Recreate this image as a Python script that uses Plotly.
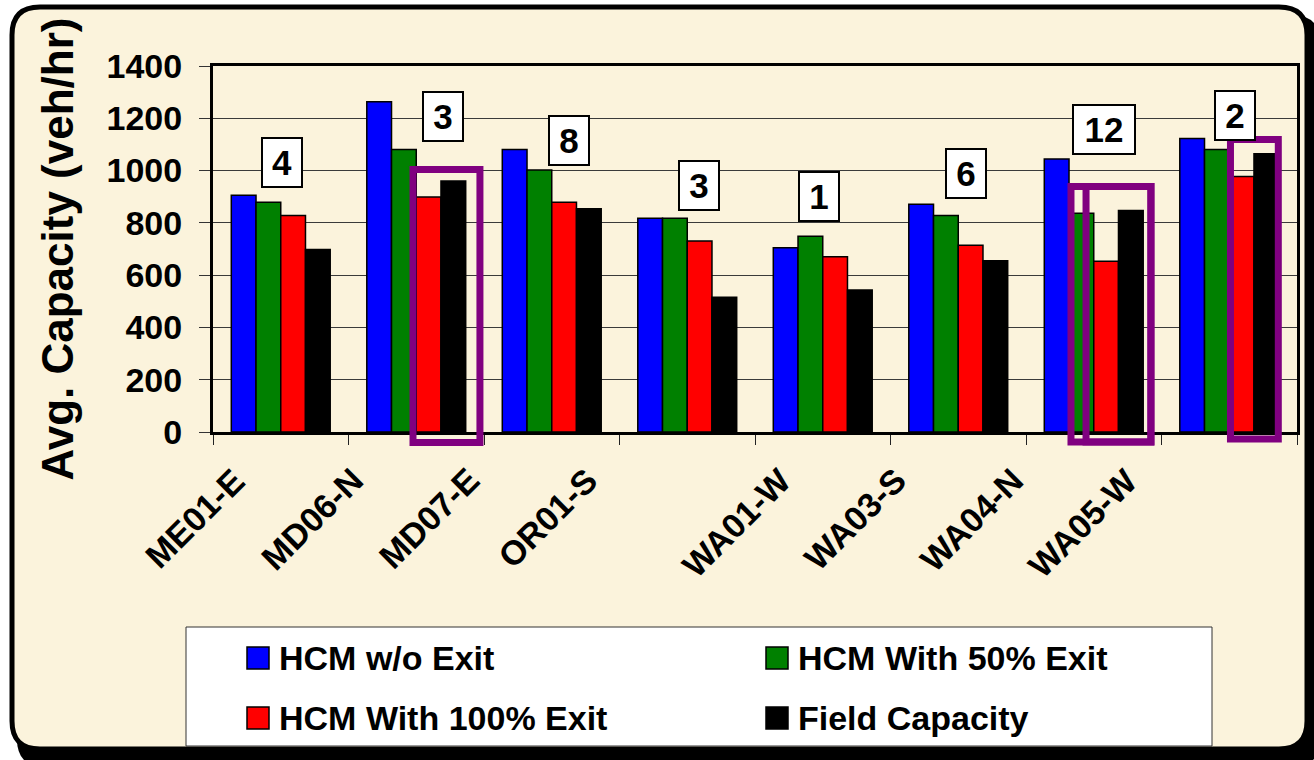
import plotly.graph_objects as go

# ---- data -------------------------------------------------------------
sites = ["ME01-E", "MD06-N", "MD07-E", "OR01-S", "WA01-W", "WA03-S", "WA04-N", "WA05-W"]
hcm_no_exit = [906, 1263, 1081, 818, 705, 871, 1044, 1123]
hcm_50_exit = [879, 1081, 1002, 818, 749, 828, 837, 1081]
hcm_100_exit = [828, 899, 879, 731, 670, 714, 653, 977]
field_capacity = [698, 960, 854, 515, 543, 655, 847, 1064]
site_counts = [4, 3, 8, 3, 1, 6, 12, 2]

series_names = ["HCM w/o Exit", "HCM With 50% Exit", "HCM With 100% Exit", "Field Capacity"]
series_values = [hcm_no_exit, hcm_50_exit, hcm_100_exit, field_capacity]
series_colors = ["#0000FF", "#008000", "#FF0000", "#000000"]

y_ticks = [0, 200, 400, 600, 800, 1000, 1200, 1400]

# ---- layout constants ---------------------------------------------------
W, H = 1314, 760
ML, MR, MT, MB = 213, 17, 66, 328
Y_MAX = 1400
CREAM = "#FBF3DC"
PURPLE = "#800080"
FONT = "Liberation Sans, Arial, sans-serif"

# count-box placement (category index offset, value-axis height)
count_dx = [0.01, 0.20, 0.125, 0.085, -0.026, 0.056, 0.078, 0.04]
count_y = [1031, 1206, 1115, 944, 900, 989, 1158, 1212]

# pixel nudges for the slanted site names
label_xshift = [-26, -43, -62, -80, -22, -42, -61, -82]

# highlight frames: (x0, x1 in category units, top value, bottom value)
highlights = [
    (0.976, 1.470, 1004, -40),
    (5.832, 6.422, 939, -38),
    (5.943, 6.422, 939, -38),
    (7.009, 7.362, 1119, -27),
]


def px_x(px):
    return (px - ML) / (W - ML - MR)


def px_y(py):
    return (H - MB - py) / (H - MT - MB)


def rounded_path(x0, y0, x1, y1, r):
    pts = [
        ("M", [(x0 + r, y0)]),
        ("L", [(x1 - r, y0)]),
        ("Q", [(x1, y0), (x1, y0 + r)]),
        ("L", [(x1, y1 - r)]),
        ("Q", [(x1, y1), (x1 - r, y1)]),
        ("L", [(x0 + r, y1)]),
        ("Q", [(x0, y1), (x0, y1 - r)]),
        ("L", [(x0, y0 + r)]),
        ("Q", [(x0, y0), (x0 + r, y0)]),
    ]
    out = []
    for cmd, coords in pts:
        out.append(cmd + " ".join(f"{px_x(a):.5f},{px_y(b):.5f}" for a, b in coords))
    return " ".join(out) + " Z"


fig = go.Figure()

for name, vals, color in zip(series_names, series_values, series_colors):
    fig.add_trace(go.Bar(
        x=sites, y=vals, name=name,
        marker=dict(color=color, line=dict(color="#000000", width=1.5)),
        showlegend=False,
    ))

shapes = [
    # card shadow and card
    dict(type="path", xref="paper", yref="paper", layer="below",
         path=rounded_path(17, 15, 1320, 767, 28),
         fillcolor="#000000", line=dict(width=0)),
    dict(type="path", xref="paper", yref="paper", layer="below",
         path=rounded_path(12, 7, 1307, 749, 28),
         fillcolor=CREAM, line=dict(color="#000000", width=5)),
]

for x0, x1, top, bot in highlights:
    shapes.append(dict(type="rect", xref="x", yref="paper",
                       x0=x0, x1=x1, y0=bot / Y_MAX, y1=top / Y_MAX,
                       line=dict(color=PURPLE, width=7), fillcolor="rgba(0,0,0,0)"))

# legend panel
shapes.append(dict(type="rect", xref="paper", yref="paper",
                   x0=px_x(186), x1=px_x(1212), y0=px_y(746), y1=px_y(627),
                   fillcolor="#FFFFFF", line=dict(color="#333333", width=1)))

annotations = []
legend_cols = [247, 766]
legend_rows = [658, 718]
for k, (name, color) in enumerate(zip(series_names, series_colors)):
    sx = legend_cols[k % 2]
    sy = legend_rows[k // 2]
    shapes.append(dict(type="rect", xref="paper", yref="paper",
                       x0=px_x(sx), x1=px_x(sx + 22), y0=px_y(sy + 11), y1=px_y(sy - 11),
                       fillcolor=color, line=dict(color="#000000", width=1.5)))
    annotations.append(dict(text=name, xref="paper", yref="paper",
                            x=px_x(sx + 30), y=px_y(sy), xanchor="left", yanchor="middle",
                            showarrow=False, font=dict(size=34, color="#000000")))

# site-count boxes
for i, (c, dx, yv) in enumerate(zip(site_counts, count_dx, count_y)):
    s = str(c)
    annotations.append(dict(text=s, xref="x", yref="y", x=i + dx, y=yv,
                            xanchor="center", yanchor="middle", showarrow=False,
                            font=dict(size=35, color="#000000"),
                            bgcolor="#FFFFFF", bordercolor="#000000", borderwidth=2,
                            borderpad=2, width=12 + 22 * len(s), height=43))

# slanted site names
for i, (site, dxp) in enumerate(zip(sites, label_xshift)):
    annotations.append(dict(text=site, xref="x", yref="paper", x=i, y=0,
                            xshift=dxp, yshift=-26, xanchor="right", yanchor="top",
                            textangle=-45, showarrow=False,
                            font=dict(size=34, color="#000000")))

fig.update_layout(
    width=W, height=H,
    margin=dict(l=ML, r=MR, t=MT, b=MB, autoexpand=False),
    paper_bgcolor="#FFFFFF",
    plot_bgcolor="rgba(0,0,0,0)",
    font=dict(family=FONT, color="#000000", weight="bold"),
    barmode="group", bargap=0.27, bargroupgap=0,
    shapes=shapes, annotations=annotations,
    showlegend=False,
    xaxis=dict(
        type="category", categoryorder="array", categoryarray=sites,
        range=[-0.5, len(sites) - 0.5], autorange=False,
        showticklabels=False,
        ticks="outside", tickson="boundaries", ticklen=10, tickwidth=1, tickcolor="#222222",
        showline=True, linecolor="#000000", linewidth=3, mirror=True,
        showgrid=False, zeroline=False,
    ),
    yaxis=dict(
        range=[0, Y_MAX], autorange=False, tickvals=y_ticks, ticktext=[str(v) for v in y_ticks],
        ticks="outside", ticklen=11, tickwidth=1, tickcolor="#333333",
        ticklabelstandoff=10,
        tickfont=dict(size=34, color="#000000"),
        showline=True, linecolor="#000000", linewidth=3, mirror=True,
        showgrid=True, gridcolor="#3a3a3a", gridwidth=1, zeroline=False,
        title=dict(text="Avg. Capacity (veh/hr)", font=dict(size=44, color="#000000"), standoff=20),
    ),
)

fig.write_html("out.html")
